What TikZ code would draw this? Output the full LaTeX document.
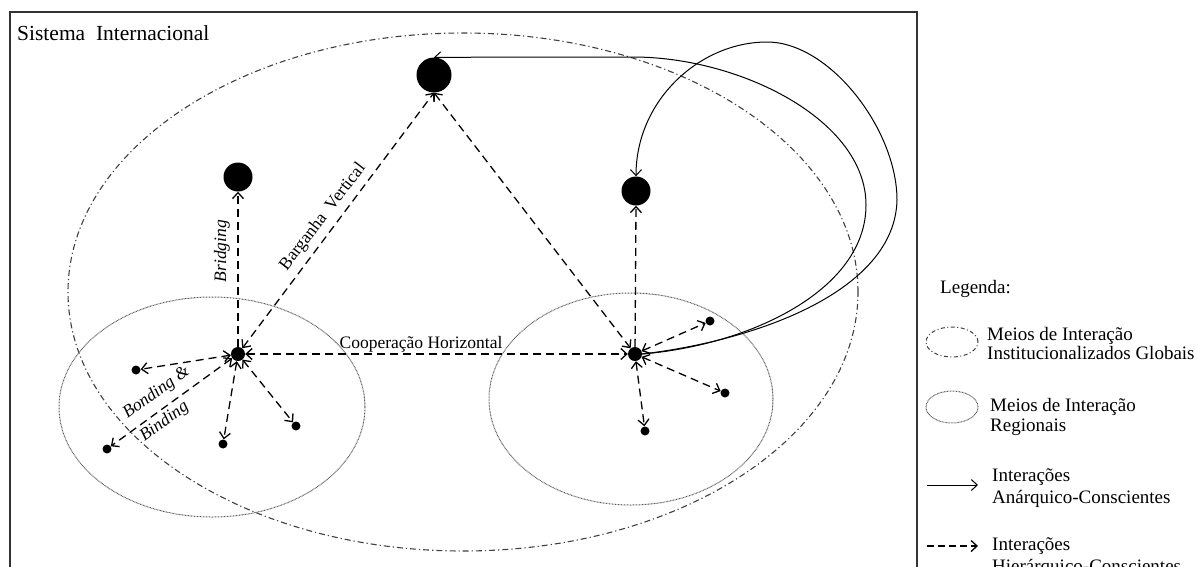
\documentclass[tikz,border=0pt]{standalone}
\usepackage{fontspec}
\setmainfont{Liberation Serif}
\usetikzlibrary{arrows.meta}
\begin{document}
\begin{tikzpicture}[x=1pt,y=-1pt,
  dot/.style={circle,fill=black,inner sep=0pt,minimum size=#1},
  barb/.tip={Straight Barb[length=6pt,width=11pt]},
  hier/.style={line width=1.3pt, dash pattern=on 8pt off 5pt, -barb},
  hiertwo/.style={hier, barb-barb},
  anar/.style={line width=1pt, -barb},
  global/.style={draw=black!75, line width=1.1pt, dash pattern=on 6pt off 3pt on 1.2pt off 3pt},
  regional/.style={draw=black!65, line width=1pt, dash pattern=on 0.8pt off 0.7pt},
  lbl/.style={font=\fontsize{17.5}{20}\selectfont, inner sep=0pt},
  leg/.style={font=\fontsize{19}{22}\selectfont, inner sep=0pt, anchor=base west},
]
\useasboundingbox (0,0) rectangle (1197,566);

% frame of the international system
\draw[line width=1.4pt, black!80] (10,570) -- (10,12) -- (917,12) -- (917,570);
\node[font=\fontsize{21.5}{24}\selectfont, anchor=base west, inner sep=0pt] (title) at (17,40) {Sistema\ \ Internacional};

% global and regional interaction spaces
\draw[global] (463,292) ellipse [x radius=395pt, y radius=259pt];
\draw[regional] (212,407) ellipse [x radius=153pt, y radius=110pt];
\draw[regional] (631,399) ellipse [x radius=142pt, y radius=106pt];

% actors
\node[dot=35pt] (top) at (434,75) {};
\node[dot=29pt] (lmid) at (238,177) {};
\node[dot=29pt] (rmid) at (636,191) {};
\node[dot=14pt] (lhub) at (238,354) {};
\node[dot=14pt] (rhub) at (635,354) {};
\node[dot=9pt] (ls1) at (136,370) {};
\node[dot=9pt] (ls2) at (107,449) {};
\node[dot=9pt] (ls3) at (223,444) {};
\node[dot=9pt] (ls4) at (296,426) {};
\node[dot=9pt] (rs1) at (710,321) {};
\node[dot=9pt] (rs2) at (725,393) {};
\node[dot=9pt] (rs3) at (645,431) {};

% hierarchical interactions
\draw[hier] (lhub) -- (lmid.south);
\draw[hiertwo] (lhub) -- (top.south);
\draw[hiertwo] (top.south) -- (rhub);
\draw[hiertwo] (lhub) -- (rhub);
\draw[hier] (rhub) -- (rmid.south);
\foreach \s in {ls1,ls2,ls3,ls4} \draw[hiertwo] (lhub) -- (\s);
\foreach \s in {rs1,rs2,rs3} \draw[hiertwo] (rhub) -- (\s);

% anarchical interactions
\draw[anar] (rhub.east) .. controls (750,345) and (866,290) .. (866,205)
  .. controls (866,120) and (740,57) .. (633,57) -- (top.north);
\draw[anar] (rhub.east) .. controls (760,340) and (895,290) .. (897,200)
  .. controls (897,130) and (830,42) .. (767,42)
  .. controls (700,42) and (636,100) .. (rmid.north);

% labels
\node[lbl, rotate=90] (bridging) at (222,251) {\itshape Bridging};
\node[lbl, rotate=52.5] (barganha) at (323,217) {Barganha\ \ Vertical};
\node[lbl, anchor=base] (coop) at (421,348) {Cooperação Horizontal};
\node[lbl, rotate=36, anchor=base] (bonding) at (159,396) {\itshape Bonding \&};
\node[lbl, rotate=36, anchor=base] (binding) at (167,425) {\itshape Binding};

% legend
\node[leg] (legtitle) at (940,293) {Legenda:};
\draw[draw=black!75, line width=1pt, dash pattern=on 4pt off 2.5pt on 1pt off 2.5pt] (952,342) ellipse [x radius=26pt, y radius=15pt];
\node[leg] (leg1a) at (987,340) {Meios de Interação};
\node[leg] (leg1b) at (987,359.5) {Institucionalizados Globais};
\draw[regional] (952,407) ellipse [x radius=26pt, y radius=16pt];
\node[leg] (leg2a) at (990,411) {Meios de Interação};
\node[leg] (leg2b) at (990,431.5) {Regionais};
\coordinate (la1) at (927,485);
\coordinate (la2) at (978,485);
\draw[anar] (la1) -- (la2);
\node[leg] (leg3a) at (992,481.5) {Interações};
\node[leg] (leg3b) at (992,503) {Anárquico-Conscientes};
\coordinate (lh1) at (927,546);
\coordinate (lh2) at (978,546);
\draw[hier, dash pattern=on 7pt off 4pt] (lh1) -- (lh2);
\node[leg] (leg4a) at (992,550) {Interações};
\node[leg] (leg4b) at (992,572) {Hierárquico-Conscientes};
\end{tikzpicture}
\end{document}
